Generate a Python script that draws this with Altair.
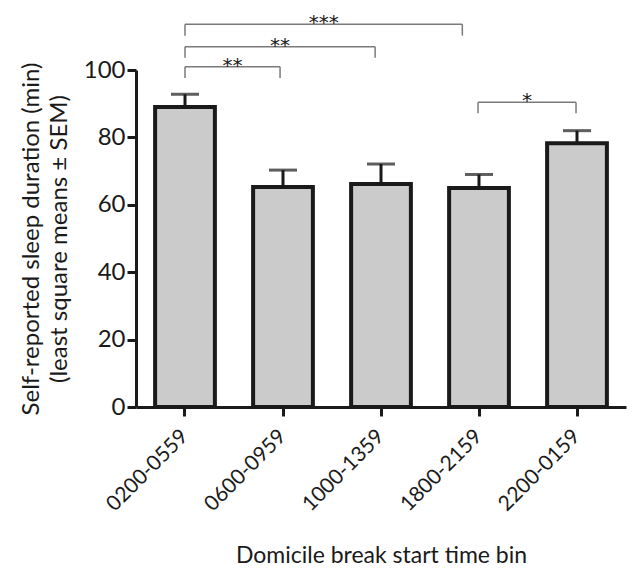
import altair as alt
import pandas as pd

# ---- data ----
categories = ["0200-0559", "0600-0959", "1000-1359", "1800-2159", "2200-0159"]
means = [89.0, 65.3, 66.2, 65.0, 78.3]
upper = [92.8, 70.3, 72.1, 69.0, 82.0]

# significance brackets (x in category-index units, y in minutes)
br_left = [0.0, 0.0, 0.0, 2.99]
br_right = [0.97, 1.94, 2.83, 3.99]
br_level = [101.0, 106.9, 113.6, 90.4]
br_end = [97.6, 103.6, 110.2, 87.2]
br_stars = ["**", "**", "***", "*"]

FONT = "Lato"
INK = "#1a1a1a"

bars_df = pd.DataFrame({"bin": categories, "mean": means, "upper": upper})

seg_rows = []
for l, r, lev, end in zip(br_left, br_right, br_level, br_end):
    seg_rows.append({"x": l, "x2": r, "y": lev, "y2": lev})
    seg_rows.append({"x": l, "x2": l, "y": lev, "y2": end})
    seg_rows.append({"x": r, "x2": r, "y": lev, "y2": end})
seg_df = pd.DataFrame(seg_rows)

star_df = pd.DataFrame({
    "mid": [(l + r) / 2 for l, r in zip(br_left, br_right)],
    "level": br_level,
    "stars": br_stars,
})

yscale = alt.Scale(domain=[0, 100], nice=False)
xband = alt.Scale(paddingInner=0.39, paddingOuter=0.195)

x_enc = alt.X(
    "bin:N", sort=categories, scale=xband,
    axis=alt.Axis(
        title="Domicile break start time bin", labelAngle=-45, labelAlign="right",
        labelBaseline="middle", labelFontSize=21, labelPadding=17,
        titleFontSize=23, titlePadding=30, titleFontWeight="normal",
    ),
)
y_enc = alt.Y(
    "mean:Q", scale=yscale,
    axis=alt.Axis(
        title=["Self-reported sleep duration (min)", "(least square means \u00b1 SEM)"],
        values=[0, 20, 40, 60, 80, 100], labelFontSize=24, labelPadding=2,
        titleFontSize=24, titleFontWeight="normal", titlePadding=12, titleLineHeight=28,
        grid=False,
    ),
)

bars = alt.Chart(bars_df).mark_bar(fill="#cbcbcb", stroke=INK, strokeWidth=4).encode(
    x=x_enc, y=y_enc
)
stems = alt.Chart(bars_df).mark_rule(color=INK, strokeWidth=3).encode(
    x=alt.X("bin:N", sort=categories, scale=xband),
    y=alt.Y("mean:Q", scale=yscale),
    y2="upper:Q",
)
caps = alt.Chart(bars_df).mark_tick(color=INK, thickness=3, size=28).encode(
    x=alt.X("bin:N", sort=categories, scale=xband),
    y=alt.Y("upper:Q", scale=yscale),
)

main = alt.layer(bars, stems, caps)

xq = alt.Scale(domain=[-0.5, 4.5], nice=False, zero=False)
brackets = alt.Chart(seg_df).mark_rule(color="#7a7a7a", strokeWidth=1.5).encode(
    x=alt.X("x:Q", scale=xq, axis=None),
    x2="x2:Q",
    y=alt.Y("y:Q", scale=yscale),
    y2="y2:Q",
)
stars = alt.Chart(star_df).mark_text(
    font="DejaVu Sans", fontSize=20, color=INK, baseline="alphabetic", dy=5
).encode(
    x=alt.X("mid:Q", scale=xq, axis=None),
    y=alt.Y("level:Q", scale=yscale),
    text="stars:N",
)

chart = alt.layer(main, brackets, stars).resolve_scale(x="independent").properties(
    width=490,
    height=337,
    autosize=alt.AutoSizeParams(type="none"),
    padding={"left": 136, "top": 70, "right": 17, "bottom": 165},
).configure_view(stroke=None).configure_axis(
    domainColor=INK, domainWidth=3, tickColor=INK, tickWidth=3, tickSize=9,
    labelFont=FONT, titleFont=FONT, labelColor=INK, titleColor=INK,
)

chart.save("out.html", embed_options={"renderer": "svg", "actions": False})
